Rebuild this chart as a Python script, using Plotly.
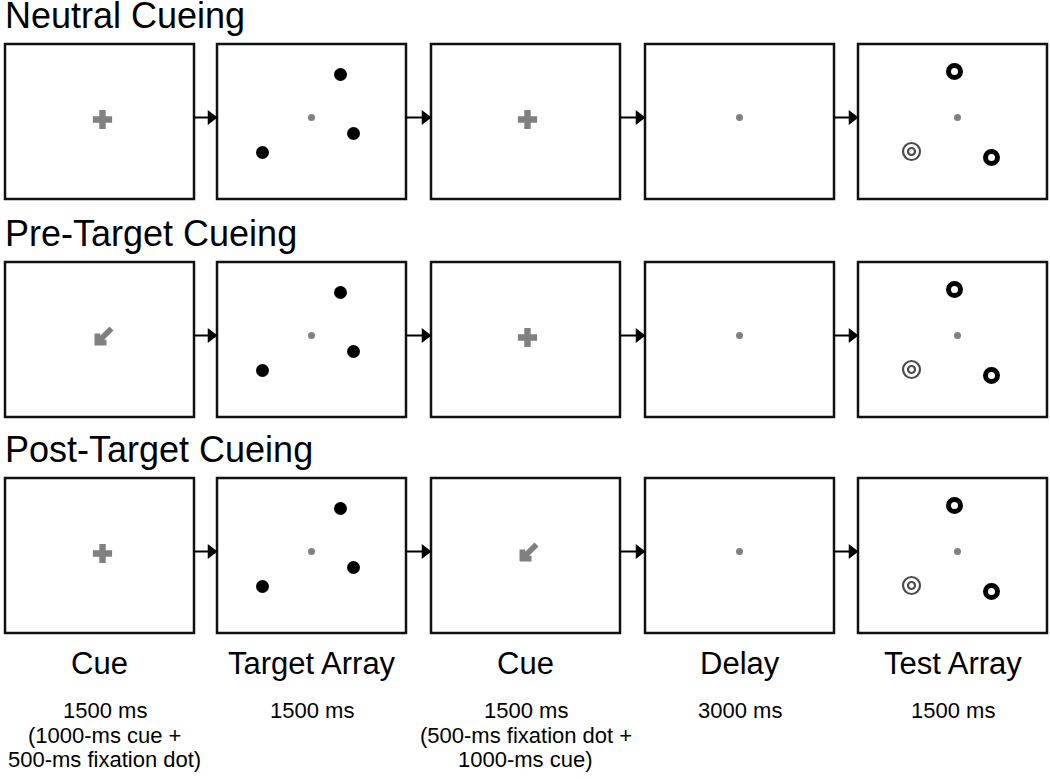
import plotly.graph_objects as go

# ---- content -------------------------------------------------------------
conditions = ["Neutral Cueing", "Pre-Target Cueing", "Post-Target Cueing"]
stages = ["Cue", "Target Array", "Cue", "Delay", "Test Array"]
durations = [
    ["1500 ms", "(1000-ms cue +", "500-ms fixation dot)"],
    ["1500 ms"],
    ["1500 ms", "(500-ms fixation dot +", "1000-ms cue)"],
    ["3000 ms"],
    ["1500 ms"],
]
first_cue = ["cross", "arrow", "cross"]     # stage 1 per condition
second_cue = ["cross", "cross", "arrow"]    # stage 3 per condition
# target-array dot locations, offset from fixation
target_dx = [29, 42, -49]
target_dy = [-43, 16, 35]
# test-array item locations, offset from fixation, and item type
test_dx = [-3, 34, -46]
test_dy = [-46, 40, 34]
test_kind = ["thick", "thick", "double"]

# ---- layout --------------------------------------------------------------
W, H = 1050, 779
FONT = "Liberation Sans, Arial, sans-serif"
box_left = [5, 217, 431, 645, 858]
box_w, box_h = 189, 155
row_top = [44, 262, 478]
stage_dx = [3, 0, 2, 0, 5]
dur_dx = [5, 0, 0, 0, 0]
GRAY = "#808080"

fig = go.Figure()
shapes, annos = [], []


def arrow_path(cx, cy):
    pts = [(-8, 8), (4, 8), (4, 2.3), (1.7, 2.3), (11, -7), (7, -11),
           (-2.3, -1.7), (-2.3, -4), (-8, -4)]
    return "M " + " L ".join(f"{cx + x:.1f},{cy + y:.1f}" for x, y in pts) + " Z"


fix_x, fix_y = [], []
cross_x, cross_y = [], []
dot_x, dot_y = [], []
ring_x, ring_y = [], []
dbl_x, dbl_y = [], []
link_x, link_y = [], []
head_x, head_y = [], []

for r, cond in enumerate(conditions):
    top = row_top[r]
    cy = top + box_h / 2 - 4
    annos.append(dict(x=3, y=top - 28.5, text=cond, showarrow=False, xanchor="left",
                      yanchor="middle", font=dict(family=FONT, size=36, color="black")))
    for s, stage in enumerate(stages):
        left = box_left[s]
        cx = left + box_w / 2 + stage_dx[s]
        shapes.append(dict(type="rect", x0=left, x1=left + box_w, y0=top, y1=top + box_h,
                           line=dict(color="#111111", width=2.5), fillcolor="white", layer="below"))
        if s < len(stages) - 1:
            link_x += [left + box_w, box_left[s + 1] - 8, None]
            link_y += [cy, cy, None]
            head_x.append(box_left[s + 1] - 6)
            head_y.append(cy)
        if s in (0, 2):
            kind = first_cue[r] if s == 0 else second_cue[r]
            if kind == "cross":
                cross_x.append(cx)
                cross_y.append(cy + 2)
            else:
                shapes.append(dict(type="path", path=arrow_path(cx, cy + 2),
                                   fillcolor=GRAY, line=dict(width=0)))
        else:
            fix_x.append(cx)
            fix_y.append(cy)
            if s == 1:
                dot_x += [cx + d for d in target_dx]
                dot_y += [cy + d for d in target_dy]
            elif s == 4:
                for dx, dy, k in zip(test_dx, test_dy, test_kind):
                    if k == "thick":
                        ring_x.append(cx + dx)
                        ring_y.append(cy + dy)
                    else:
                        dbl_x.append(cx + dx)
                        dbl_y.append(cy + dy)

for s, stage in enumerate(stages):
    cx = box_left[s] + box_w / 2
    annos.append(dict(x=cx, y=663.5, text=stage, showarrow=False, xanchor="center",
                      yanchor="middle", font=dict(family=FONT, size=31, color="black")))
    for i, line in enumerate(durations[s]):
        annos.append(dict(x=cx + dur_dx[s], y=710.7 + 24.3 * i, text=line, showarrow=False,
                          xanchor="center", yanchor="middle",
                          font=dict(family=FONT, size=22, color="black")))

fig.add_trace(go.Scatter(x=link_x, y=link_y, mode="lines",
                         line=dict(color="black", width=2), hoverinfo="skip"))
fig.add_trace(go.Scatter(x=head_x, y=head_y, mode="markers",
                         marker=dict(symbol="triangle-right", size=13, color="black",
                                     line=dict(width=0)), hoverinfo="skip"))
fig.add_trace(go.Scatter(x=cross_x, y=cross_y, mode="markers",
                         marker=dict(symbol="cross", size=16, color=GRAY, line=dict(width=0))))
fig.add_trace(go.Scatter(x=fix_x, y=fix_y, mode="markers",
                         marker=dict(symbol="circle", size=7, color=GRAY, line=dict(width=0))))
fig.add_trace(go.Scatter(x=dot_x, y=dot_y, mode="markers",
                         marker=dict(symbol="circle", size=13, color="black", line=dict(width=0))))
fig.add_trace(go.Scatter(x=ring_x, y=ring_y, mode="markers",
                         marker=dict(symbol="circle-open", size=12, color="black",
                                     line=dict(width=5, color="black"))))
fig.add_trace(go.Scatter(x=dbl_x + dbl_x, y=dbl_y + dbl_y, mode="markers",
                         marker=dict(symbol="circle-open", size=[17] * len(dbl_x) + [7] * len(dbl_x),
                                     color="black", line=dict(width=2.2, color="black"))))

fig.update_layout(
    width=W, height=H, autosize=False,
    margin=dict(l=0, r=0, t=0, b=0),
    paper_bgcolor="white", plot_bgcolor="white",
    showlegend=False,
    shapes=shapes, annotations=annos,
    xaxis=dict(range=[0, W], visible=False, fixedrange=True),
    yaxis=dict(range=[H, 0], visible=False, fixedrange=True),
)
fig.write_html("out.html", config={"displayModeBar": False, "staticPlot": True},
               post_script="document.body.style.margin='0';")
